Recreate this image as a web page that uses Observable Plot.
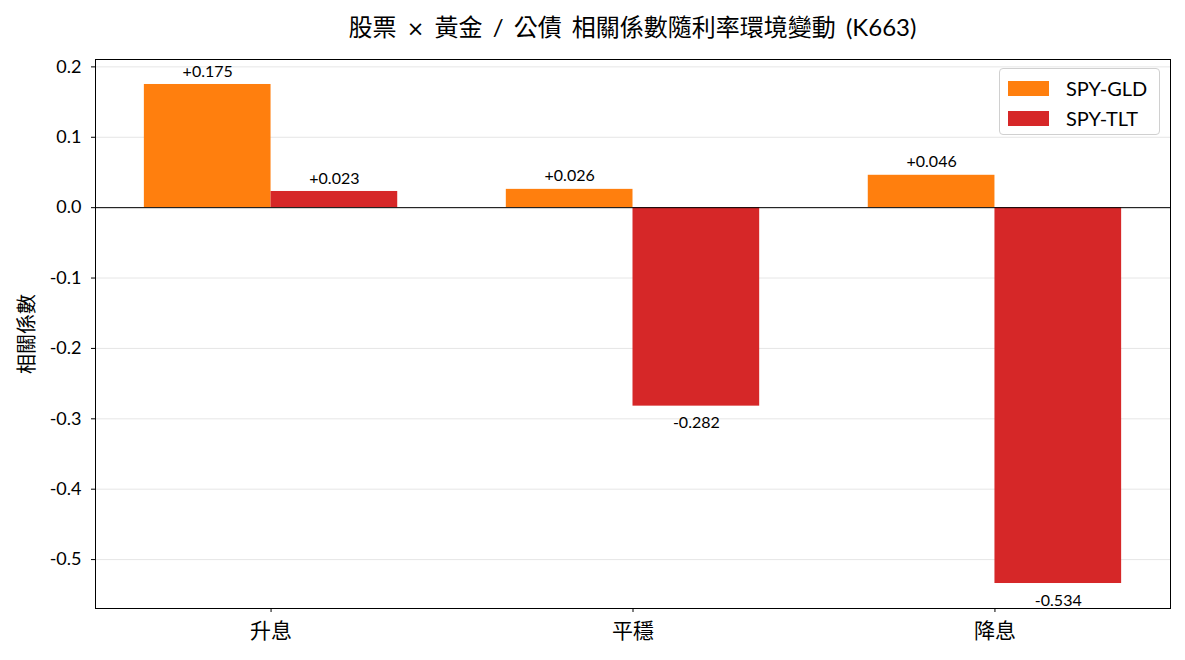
<!DOCTYPE html>
<html>
<head>
<meta charset="utf-8">
<script src="https://cdn.jsdelivr.net/npm/d3@7"></script>
<script src="https://cdn.jsdelivr.net/npm/@observablehq/plot@0.6"></script>
<style>
  html, body { margin: 0; padding: 0; background: #fff; }
  body { width: 1185px; height: 660px; overflow: hidden; position: relative;
         font-family: "Lato", "Noto Sans CJK TC", sans-serif; color: #000; }
  #title { height: 50px; box-sizing: border-box; padding: 13px 15px 0 95px; text-align: center;
           font-size: 24px; line-height: 28px; word-spacing: 4px; white-space: nowrap;
           font-family: "Lato", "Noto Sans CJK TC", sans-serif; }
  #title .x { font-family: "DejaVu Sans", sans-serif; font-size: 21px; }
  #legend { position: absolute; left: 999px; top: 68px; width: 161px; height: 67px; box-sizing: border-box;
            border: 1px solid #d0d0d0; border-radius: 4px; background: rgba(255,255,255,0.85);
            font-size: 20px; }
  .item { position: absolute; left: 8px; display: flex; align-items: center; height: 20px; }
  .sw { width: 41px; height: 15px; margin-right: 17px; }
  #chart svg { display: block; }
</style>
</head>
<body>
<div id="title"></div>
<div id="chart"></div>
<div id="legend"></div>
<script>
const titleParts = ["股票 ", "×", " 黃金 / 公債 相關係數隨利率環境變動 (K663)"];
const categories = ["升息", "平穩", "降息"];
const seriesNames = ["SPY-GLD", "SPY-TLT"];
const seriesColors = ["#ff7f0e", "#d62728"];
const spyGld = [0.175, 0.026, 0.046];
const spyTlt = [0.023, -0.282, -0.534];
const yTicks = [-0.5, -0.4, -0.3, -0.2, -0.1, 0.0, 0.1, 0.2];
const yLabel = "相關係數";

const t = document.getElementById("title");
t.append(titleParts[0]);
const xs = document.createElement("span"); xs.className = "x"; xs.textContent = titleParts[1]; t.append(xs);
t.append(titleParts[2]);

const barWidth = 0.35;
const rows = [];
[spyGld, spyTlt].forEach((vals, s) => {
  vals.forEach((v, i) => rows.push({i, s, series: seriesNames[s], value: v}));
});
const left = d => d.i - barWidth + d.s * barWidth;
const right = d => d.i + d.s * barWidth;
const mid = d => d.i - barWidth / 2 + d.s * barWidth;
const fmt = v => (v >= 0 ? "+" : "") + v.toFixed(3);

const plot = Plot.plot({
  width: 1185,
  height: 610,
  marginTop: 9,
  marginBottom: 52,
  marginLeft: 95,
  marginRight: 15,
  style: {fontFamily: '"Lato", "Noto Sans CJK TC", sans-serif', fontSize: "16px", color: "#000", background: "#fff"},
  x: {domain: [-0.485, 2.485]},
  y: {domain: [-0.5695, 0.2105]},
  color: {domain: seriesNames, range: seriesColors},
  marks: [
    Plot.ruleY(yTicks, {stroke: "#e6e6e6", strokeWidth: 1}),
    Plot.rectY(rows, {x1: left, x2: right, y1: 0, y2: "value", fill: "series"}),
    Plot.ruleY([0], {stroke: "#000", strokeWidth: 1}),
    Plot.text(rows.filter(d => d.value >= 0), {x: mid, y: "value", text: d => fmt(d.value), dy: -13, fontSize: 16}),
    Plot.text(rows.filter(d => d.value < 0), {x: mid, y: "value", text: d => fmt(d.value), dy: 17, fontSize: 16}),
    Plot.axisY({ticks: yTicks, tickFormat: d => d.toFixed(1), tickSize: 4, tickPadding: 10, fontSize: 18, label: null}),
    Plot.axisX({ticks: [0, 1, 2], tickFormat: i => categories[i], tickSize: 4, tickPadding: 11, fontSize: 21, label: null}),
    Plot.text([yLabel], {frameAnchor: "left", dx: -68, rotate: -90, textAnchor: "middle", fontSize: 20, text: d => d}),
    Plot.frame({stroke: "#000", strokeWidth: 1})
  ]
});
document.getElementById("chart").appendChild(plot);

const legend = document.getElementById("legend");
seriesNames.forEach((name, k) => {
  const it = document.createElement("div");
  it.className = "item";
  it.style.top = (9 + k * 30) + "px";
  it.innerHTML = `<span class="sw" style="background:${seriesColors[k]}"></span><span>${name}</span>`;
  legend.appendChild(it);
});
</script>
</body>
</html>
